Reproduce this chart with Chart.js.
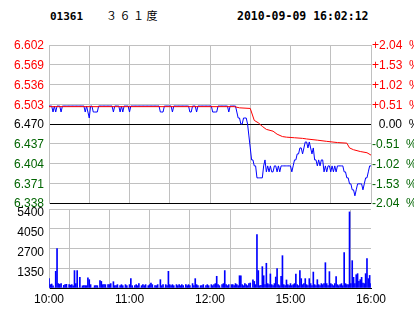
<!DOCTYPE html>
<html><head><meta charset="utf-8">
<script src="https://cdn.jsdelivr.net/npm/chart.js@4.4.1/dist/chart.umd.min.js"></script>
<style>
html,body{margin:0;padding:0;background:#fff;width:414px;height:314px;overflow:hidden}
body{position:relative}
.t{position:absolute;white-space:pre;color:#000}
#code{left:50px;top:11px;font:bold 11px/11px "DejaVu Sans Mono",monospace}
#name{left:106px;top:10px;font:11px/11px "Noto Sans CJK SC",sans-serif;letter-spacing:2.5px}
#time{left:237px;top:11px;font:bold 11.5px/11px "DejaVu Sans Mono",monospace}
#w1{position:absolute;left:0;top:0}
#w2{position:absolute;left:0;top:205px}
</style></head>
<body>
<div class="t" id="code">01361</div>
<div class="t" id="name">３６１度</div>
<div class="t" id="time">2010-09-09 16:02:12</div>
<canvas id="w2" width="414" height="109"></canvas>
<canvas id="w1" width="414" height="212"></canvas>
<script>
// ---- data ----
const priceTicks = [6.602, 6.569, 6.536, 6.503, 6.470, 6.437, 6.404, 6.371, 6.338];
const priceTickLabels = ['6.602','6.569','6.536','6.503','6.470','6.437','6.404','6.371','6.338'];
const pctTickLabels = ['+2.04  %','+1.53  %','+1.02  %','+0.51  %','\u20070.00  %','-0.51  %','-1.02  %','-1.53  %','-2.04  %'];
const volTicks = [0, 1350, 2700, 4050, 5400];
const volTickLabels = ['', '1350', '2700', '4050', '5400'];
const timeTicks = [0, 30, 60, 90, 120, 150, 180, 210, 240];
const timeTickLabels = ['10:00', '', '11:00', '', '12:00', '', '15:00', '', '16:00'];

const price = [
6.50,6.50,6.50,6.49,6.50,6.49,6.50,6.50,6.50,6.49,
6.50,6.50,6.50,6.50,6.50,6.50,6.50,6.50,6.50,6.50,
6.50,6.50,6.50,6.50,6.50,6.50,6.50,6.49,6.50,6.49,
6.48,6.50,6.50,6.49,6.49,6.49,6.49,6.50,6.50,6.50,
6.50,6.50,6.50,6.50,6.50,6.50,6.50,6.50,6.49,6.50,
6.50,6.50,6.50,6.49,6.50,6.49,6.50,6.50,6.50,6.50,
6.49,6.50,6.50,6.50,6.50,6.50,6.50,6.50,6.50,6.50,
6.50,6.50,6.50,6.50,6.50,6.50,6.50,6.50,6.50,6.50,
6.50,6.50,6.50,6.49,6.49,6.49,6.50,6.50,6.50,6.50,
6.50,6.50,6.49,6.50,6.50,6.50,6.50,6.50,6.50,6.50,
6.50,6.50,6.50,6.50,6.50,6.49,6.49,6.50,6.50,6.50,
6.49,6.50,6.50,6.50,6.50,6.50,6.50,6.50,6.50,6.50,
6.50,6.50,6.49,6.49,6.49,6.49,6.50,6.50,6.50,6.50,
6.50,6.50,6.50,6.50,6.49,6.50,6.50,6.50,6.50,6.50,
6.49,6.48,6.48,6.47,6.47,6.48,6.48,6.48,6.47,6.45,
6.43,6.41,6.41,6.40,6.40,6.38,6.38,6.38,6.38,6.38,
6.40,6.41,6.39,6.40,6.39,6.40,6.39,6.39,6.40,6.40,
6.39,6.40,6.39,6.40,6.40,6.40,6.40,6.40,6.40,6.40,
6.40,6.39,6.40,6.41,6.41,6.42,6.42,6.43,6.43,6.42,
6.43,6.44,6.44,6.43,6.44,6.43,6.42,6.43,6.41,6.41,
6.40,6.41,6.40,6.41,6.41,6.39,6.40,6.39,6.40,6.40,
6.39,6.40,6.39,6.40,6.39,6.40,6.40,6.40,6.40,6.40,
6.39,6.39,6.38,6.38,6.37,6.37,6.36,6.36,6.35,6.36,
6.37,6.37,6.37,6.37,6.36,6.37,6.38,6.38,6.39,6.40,
6.40];

const avgMinutes = [0, 138, 142, 150, 153, 156, 159, 162, 167, 170, 174, 177, 183, 189, 192, 200, 207, 215, 222, 224, 227, 232, 237, 240];
const avgValues  = [6.499, 6.499, 6.497, 6.496, 6.476, 6.472, 6.466, 6.461, 6.458, 6.453, 6.449, 6.448, 6.447, 6.446, 6.445, 6.443, 6.441, 6.439, 6.438, 6.430, 6.427, 6.424, 6.422, 6.418];

const volume = [
640,230,270,150,0,1140,2700,300,250,300,
0,180,230,250,0,230,200,230,150,1190,
300,1190,0,730,0,150,160,160,160,700,
570,230,0,0,160,160,160,0,500,450,
230,230,230,0,230,230,300,0,430,160,
160,230,0,160,230,160,0,230,160,0,
230,640,160,0,160,230,160,300,0,160,
230,160,230,0,160,230,340,230,0,160,
160,230,0,570,160,230,0,230,160,1140,
230,160,230,160,0,230,160,230,160,230,
160,0,230,160,230,160,0,300,160,640,
230,160,0,160,160,230,0,160,230,160,
0,230,160,230,300,800,230,160,0,230,
300,1190,230,160,230,0,230,230,160,300,
230,160,840,840,230,160,300,230,160,300,
340,0,550,450,230,3650,1190,160,180,1460,
840,230,1690,300,230,960,230,160,300,750,
1320,230,160,800,2210,230,160,550,230,160,
300,160,230,300,960,230,160,1190,640,230,
300,640,230,160,640,300,160,1090,230,160,
570,230,160,300,230,300,1730,300,160,1120,
300,230,160,300,775,230,160,230,300,160,
2420,300,230,230,5200,300,1870,730,300,910,
980,450,570,730,340,300,980,2010,640,860,
300];

// ---- helpers ----
const minutes = price.map((_, i) => i);
const FONT = {family: '"Liberation Sans", Arial, sans-serif', size: 12};
const RED = '#ff0000', GREEN = '#006400', GRID = '#c0c0c0';
function labelColor(i) { return i < 4 ? RED : (i === 4 ? '#000000' : GREEN); }
function fixV(w) { return s => { s.width = w; s.paddingTop = 0; s.paddingBottom = 0; }; }
function fixH(h) { return s => { s.height = h; s.paddingLeft = 0; s.paddingRight = 0; }; }

Chart.defaults.animation = false;
Chart.defaults.font = FONT;

new Chart(document.getElementById('w1'), {
  type: 'line',
  data: {
    datasets: [
      {data: avgMinutes.map((m, i) => ({x: m, y: avgValues[i]})), borderColor: RED, borderWidth: 1, pointRadius: 0, tension: 0, yAxisID: 'y'},
      {data: minutes.map((m, i) => ({x: m, y: price[i]})), borderColor: '#0000ff', borderWidth: 1, pointRadius: 0, tension: 0, yAxisID: 'y'}
    ]
  },
  options: {
    responsive: false, devicePixelRatio: 1,
    layout: {padding: {top: 45, bottom: 9, left: 0, right: 0}},
    plugins: {legend: {display: false}, tooltip: {enabled: false}},
    scales: {
      x: {
        type: 'linear', min: 0, max: 240,
        afterBuildTicks: s => { s.ticks = timeTicks.map(v => ({value: v})); },
        afterFit: fixH(0),
        ticks: {display: false},
        grid: {color: GRID, drawTicks: false},
        border: {color: '#000000', width: 1}
      },
      y: {
        position: 'left', min: 6.338, max: 6.602,
        afterBuildTicks: s => { s.ticks = priceTicks.map(v => ({value: v})); },
        afterFit: fixV(49),
        ticks: {padding: 5, labelOffset: 1, color: c => labelColor(c.index), callback: (v, i) => priceTickLabels[i]},
        grid: {drawTicks: false, color: c => (c.index === 4 || c.index === 8) ? '#000000' : GRID},
        border: {color: GRID}
      },
      y2: {
        position: 'right', min: 6.338, max: 6.602,
        afterBuildTicks: s => { s.ticks = priceTicks.map(v => ({value: v})); },
        afterFit: fixV(43),
        ticks: {padding: 1, labelOffset: 1, color: c => labelColor(c.index), callback: (v, i) => pctTickLabels[i]},
        grid: {display: false, drawTicks: false},
        border: {color: GRID}
      }
    }
  }
});

new Chart(document.getElementById('w2'), {
  type: 'bar',
  data: {
    datasets: [
      {data: minutes.map((m, i) => ({x: m, y: volume[i]})), backgroundColor: '#0000ff', borderWidth: 0, barThickness: 1}
    ]
  },
  options: {
    responsive: false, devicePixelRatio: 1,
    layout: {padding: {top: 4, bottom: 0, left: 0, right: 43}},
    plugins: {legend: {display: false}, tooltip: {enabled: false}},
    scales: {
      x: {
        type: 'linear', min: 0, max: 240, offset: false,
        afterBuildTicks: s => { s.ticks = timeTicks.map(v => ({value: v})); },
        afterFit: fixH(26),
        ticks: {autoSkip: false, maxRotation: 0, padding: 4, color: '#000000', callback: (v, i) => timeTickLabels[i]},
        grid: {color: GRID, drawTicks: false},
        border: {color: '#000000'}
      },
      y: {
        position: 'left', min: 0, max: 5400,
        afterBuildTicks: s => { s.ticks = volTicks.map(v => ({value: v})); },
        afterFit: fixV(49),
        ticks: {padding: 5, labelOffset: 4, color: '#000000', callback: (v, i) => volTickLabels[i]},
        grid: {drawTicks: false, color: GRID},
        border: {color: GRID}
      }
    }
  }
});
</script>
</body></html>
